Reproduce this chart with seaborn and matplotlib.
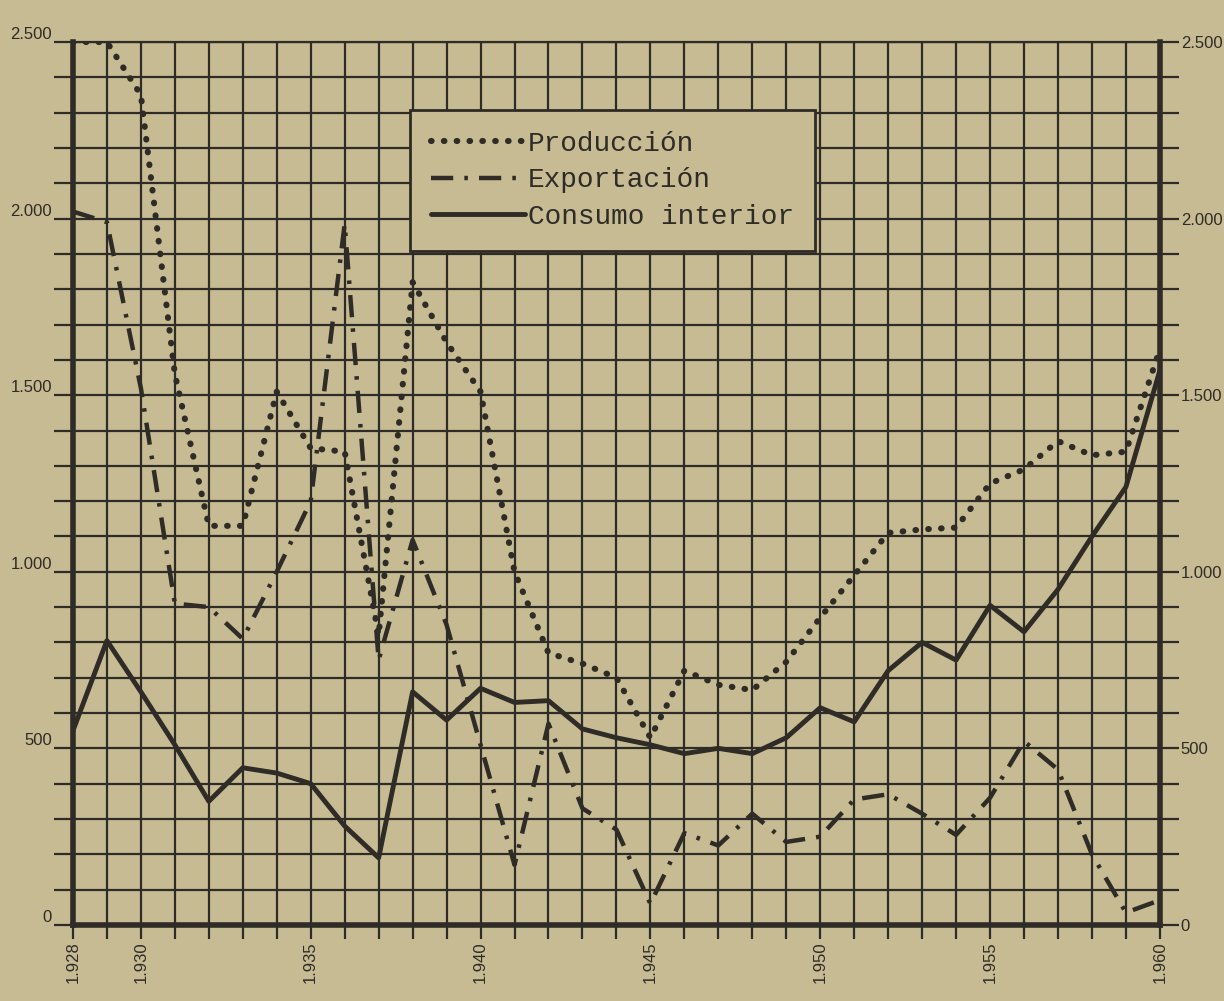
import matplotlib
matplotlib.use('Agg')
import matplotlib.pyplot as plt
import pandas as pd
import seaborn as sns
from matplotlib.ticker import FixedLocator, FuncFormatter

years = list(range(1928, 1961))
produccion = [2500, 2500, 2350, 1560, 1130, 1130, 1510, 1350, 1340, 820,
              1820, 1650, 1510, 1000, 770, 740, 700, 530, 720, 680,
              665, 745, 870, 990, 1110, 1120, 1125, 1250, 1290, 1370,
              1330, 1340, 1630]
exportacion = [2020, 1990, 1520, 910, 900, 810, 1000, 1200, 1985, 750,
               1090, 850, 510, 170, 570, 330, 270, 60, 260, 225,
               315, 235, 250, 355, 370, 315, 255, 360, 520, 440,
               200, 35, 70]
consumo = [550, 805, 660, 510, 350, 445, 430, 400, 280, 190,
           660, 580, 670, 630, 635, 555, 530, 510, 485, 500,
           485, 530, 615, 575, 720, 800, 750, 905, 830, 950,
           1100, 1240, 1570]

series_names = ['Producción', 'Exportación', 'Consumo interior']
y_labelled = [0, 500, 1000, 1500, 2000, 2500]
x_labelled = [1928, 1930, 1935, 1940, 1945, 1950, 1955, 1960]

df = pd.DataFrame({'anio': years,
                   series_names[0]: produccion,
                   series_names[1]: exportacion,
                   series_names[2]: consumo})

paper = '#c6bb92'
ink = '#2f2b26'

sns.set_theme(style='white')
plt.rcParams['font.family'] = ['Liberation Mono', 'DejaVu Sans']

fig = plt.figure(figsize=(12.24, 10.01), dpi=100, facecolor=paper)
ax = fig.add_axes([0.0596, 0.076, 0.888, 0.882])
ax.set_facecolor(paper)

for name in series_names:
    sns.lineplot(data=df, x='anio', y=name, color=ink, linewidth=3.5,
                 label=name, ax=ax)

ax.lines[0].set_linestyle((0, (0.1, 2.0)))
ax.lines[0].set_dash_capstyle('round')
ax.lines[0].set_linewidth(4.4)
ax.lines[1].set_linestyle((0, (5, 2.5, 0.8, 2.5)))
ax.lines[1].set_linewidth(3.2)

ax.set_xlim(1928, 1960)
ax.set_ylim(0, 2500)
ax.set_xlabel('')
ax.set_ylabel('')

ax.xaxis.set_major_locator(FixedLocator(years))
ax.yaxis.set_major_locator(FixedLocator(list(range(0, 2501, 100))))
ax.xaxis.set_major_formatter(FuncFormatter(
    lambda v, p: f'1.{int(round(v)) % 1000:03d}' if int(round(v)) in x_labelled else ''))
ax.yaxis.set_major_formatter(FuncFormatter(
    lambda v, p: f'{int(round(v)):,}'.replace(',', '.') if int(round(v)) in y_labelled else ''))

ax.grid(True, color=ink, linewidth=1.6)
ax.set_axisbelow(True)

ax.tick_params(axis='y', left=True, right=True, labelleft=True, labelright=True,
               direction='out', length=14, width=1.6, color=ink,
               labelsize=12, labelcolor=ink, pad=1,
               labelfontfamily='Liberation Sans')
ax.tick_params(axis='x', bottom=True, direction='out', length=10, width=1.6,
               color=ink, labelsize=12, labelcolor=ink, labelrotation=90, pad=2,
               labelfontfamily='Liberation Sans')

for t in ax.yaxis.get_major_ticks():
    t.label1.set_verticalalignment('bottom')

for side in ['left', 'right', 'bottom']:
    ax.spines[side].set_linewidth(4)
    ax.spines[side].set_color(ink)
ax.spines['top'].set_linewidth(1.6)
ax.spines['top'].set_color(ink)

leg = ax.legend(loc='upper left', bbox_to_anchor=(0.31, 0.923), frameon=True,
                fancybox=False, edgecolor=ink, facecolor=paper, framealpha=1,
                fontsize=20, handlelength=3.4, handletextpad=0.1,
                labelspacing=0.38, borderpad=0.75, borderaxespad=0)
leg.get_frame().set_linewidth(2)
for txt in leg.get_texts():
    txt.set_color(ink)

fig.savefig('out.png', dpi=100, facecolor=paper)
